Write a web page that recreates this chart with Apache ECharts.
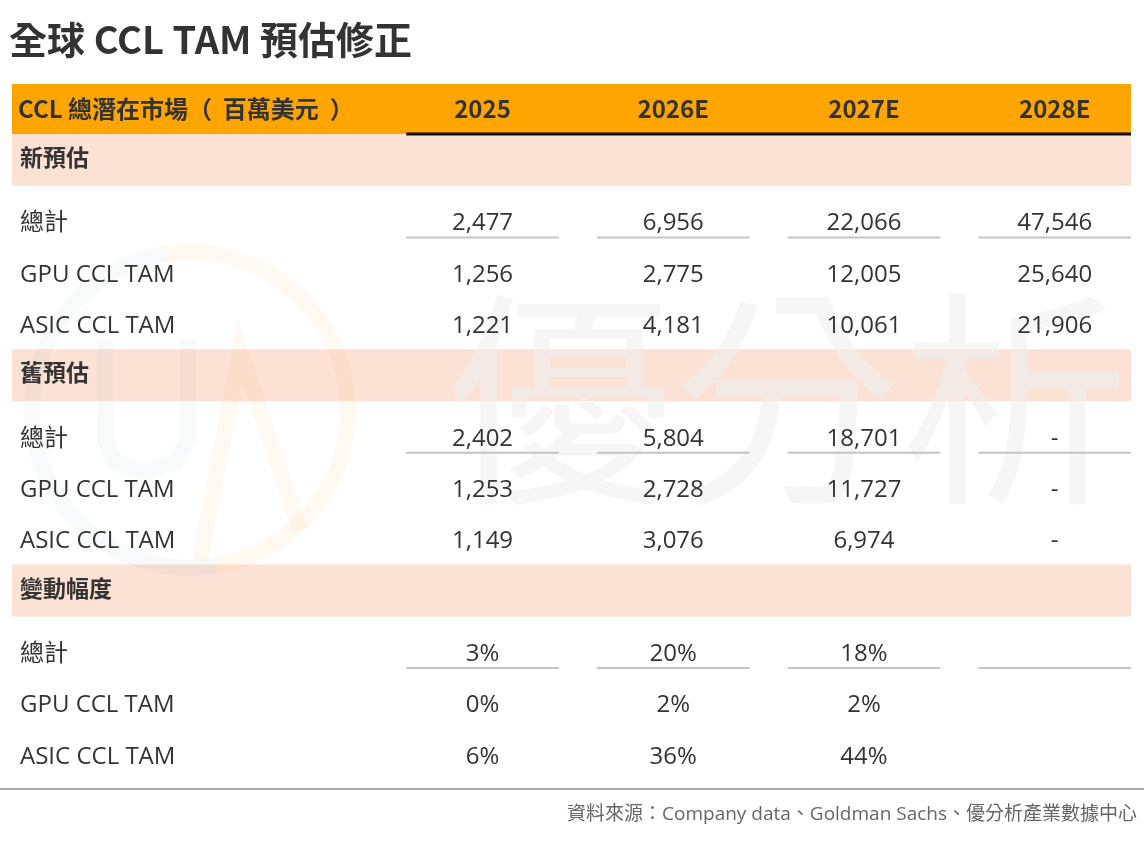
<!DOCTYPE html>
<html>
<head>
<meta charset="utf-8">
<script src="https://cdn.jsdelivr.net/npm/echarts@6/dist/echarts.min.js"></script>
<style>
  html, body { margin: 0; padding: 0; background: #fff; }
  #main { width: 1144px; height: 843px; }
</style>
</head>
<body>
<div id="main"></div>
<script>
// ---- 資料 ----
var titleText = '全球 CCL TAM 預估修正';
var headerLabel = 'CCL 總潛在市場（  百萬美元  ）';
var years = ['2025', '2026E', '2027E', '2028E'];
var sections = ['新預估', '舊預估', '變動幅度'];
var rowLabels = ['總計', 'GPU CCL TAM', 'ASIC CCL TAM'];

// 新預估 (百萬美元)
var newTotal = [2477, 6956, 22066, 47546];
var newGpu   = [1256, 2775, 12005, 25640];
var newAsic  = [1221, 4181, 10061, 21906];
// 舊預估
var oldTotal = [2402, 5804, 18701, null];
var oldGpu   = [1253, 2728, 11727, null];
var oldAsic  = [1149, 3076, 6974, null];
// 變動幅度 (%)
var chgTotal = [3, 20, 18, null];
var chgGpu   = [0, 2, 2, null];
var chgAsic  = [6, 36, 44, null];

var sourceText = '資料來源：Company data、Goldman Sachs、優分析產業數據中心';

// ---- 版面 ----
var FONT = '"Noto Sans CJK TC", "Noto Sans", sans-serif';
var FONT_MIX = '"Open Sans", "Noto Sans CJK TC", sans-serif';
var X_MIN = -1.467, X_MAX = 4.4, LABEL_X = -1.425, HALF = 0.4;
var HEADER_H = 0.97, SECTION_H = 1.01, GAP_H = 0.175, ROW_H = 1, FOOT_H = 0.18;
var TEXT_SHIFT = 0.055; // Open Sans 基線略高，往下補一點

function fmtNum(v) { return v == null ? '-' : v.toLocaleString('en-US'); }
function fmtPct(v) { return v == null ? '' : v + '%'; }

var sectionRows = [
    [newTotal, newGpu, newAsic].map(function (r) { return r.map(fmtNum); }),
    [oldTotal, oldGpu, oldAsic].map(function (r) { return r.map(fmtNum); }),
    [chgTotal, chgGpu, chgAsic].map(function (r) { return r.map(fmtPct); })
];

var bgItems = [];   // [x0, y0, x1, y1, color]
var lineItems = []; // [x0, y, x1, color, width]
var cells = [];     // {x, y, text, kind}

var y = 0;
bgItems.push([X_MIN, 0, X_MAX, HEADER_H, '#FFA500']);
cells.push({ x: LABEL_X - 0.01, y: HEADER_H / 2, text: headerLabel, kind: 'headLeft' });
years.forEach(function (yr, i) {
    cells.push({ x: i + 1, y: HEADER_H / 2, text: yr, kind: 'head' });
});
lineItems.push([1 - HALF, HEADER_H, X_MAX, '#111', 3]);
y = HEADER_H;

sections.forEach(function (name, si) {
    bgItems.push([X_MIN, y, X_MAX, y + SECTION_H, '#FBE2D5']);
    cells.push({ x: LABEL_X, y: y + SECTION_H / 2 - 0.05, text: name, kind: 'section' });
    y += SECTION_H + GAP_H;
    sectionRows[si].forEach(function (vals, ri) {
        var cy = y + ROW_H / 2;
        cells.push({ x: LABEL_X, y: cy + TEXT_SHIFT, text: rowLabels[ri], kind: 'label' });
        vals.forEach(function (v, ci) {
            cells.push({ x: ci + 1, y: cy + TEXT_SHIFT, text: v, kind: 'value' });
            if (ri === 0) lineItems.push([ci + 1 - HALF, cy + 0.33, ci + 1 + HALF, '#C4C4C4', 2]);
        });
        y += ROW_H;
    });
});
var Y_MAX = y + FOOT_H;

var cellStyle = {
    headLeft: { font: 'bold 24px ' + FONT, align: 'left', fill: '#333' },
    head:     { font: 'bold 24px ' + FONT, align: 'center', fill: '#333' },
    section:  { font: 'bold 23px ' + FONT, align: 'left', fill: '#333' },
    label:    { font: '24px ' + FONT_MIX, align: 'left', fill: '#333' },
    value:    { font: '24px ' + FONT_MIX, align: 'center', fill: '#333' }
};

var chart = echarts.init(document.getElementById('main'));

var option = {
    backgroundColor: '#fff',
    animation: false,
    title: {
        text: titleText,
        left: 9, top: 21, padding: 0,
        textStyle: { fontFamily: FONT, fontSize: 38, fontWeight: 'bold', color: '#333' }
    },
    grid: { left: 12, right: 13, top: 84, bottom: 54 },
    xAxis: { type: 'value', min: X_MIN, max: X_MAX, show: false, splitLine: { show: false } },
    yAxis: { type: 'value', min: 0, max: Y_MAX, inverse: true, show: false, splitLine: { show: false } },
    graphic: [
        // 浮水印
        { type: 'arc', z: 5, silent: true, shape: { cx: 190, cy: 410, r: 158, startAngle: -Math.PI * 0.55, endAngle: Math.PI * 0.45 },
          style: { stroke: 'rgba(250,190,100,0.09)', lineWidth: 16, fill: null } },
        { type: 'arc', z: 5, silent: true, shape: { cx: 190, cy: 410, r: 158, startAngle: Math.PI * 0.45, endAngle: Math.PI * 1.45 },
          style: { stroke: 'rgba(170,180,200,0.08)', lineWidth: 16, fill: null } },
        { type: 'polyline', z: 5, silent: true, shape: { points: [[105, 340], [105, 440], [115, 462], [145, 472], [175, 462], [188, 440], [188, 340]] },
          style: { stroke: 'rgba(170,180,200,0.08)', lineWidth: 16, fill: null } },
        { type: 'polyline', z: 5, silent: true, shape: { points: [[200, 560], [240, 350], [300, 530]] },
          style: { stroke: 'rgba(250,190,100,0.09)', lineWidth: 16, fill: null } },
        { type: 'text', z: 5, silent: true, left: 445, top: 285,
          style: { text: '優分析', font: '228px ' + FONT, fill: 'rgba(240,240,240,0.6)', letterSpacing: 22 } },
        // 底線與資料來源
        { type: 'line', z: 5, silent: true, shape: { x1: 0, y1: 789, x2: 1144, y2: 789 },
          style: { stroke: '#A8A8A8', lineWidth: 2 } },
        { type: 'text', z: 5, silent: true, right: 7, top: 805,
          style: { text: sourceText, font: '19px ' + FONT_MIX, fill: '#666' } }
    ],
    series: [
        {
            type: 'custom', z: 1, silent: true,
            data: bgItems.map(function (b) { return [b[0], b[1]]; }),
            renderItem: function (params, api) {
                var b = bgItems[params.dataIndex];
                var p0 = api.coord([b[0], b[1]]);
                var p1 = api.coord([b[2], b[3]]);
                return { type: 'rect', shape: { x: p0[0], y: p0[1], width: p1[0] - p0[0], height: p1[1] - p0[1] },
                         style: { fill: b[4] } };
            }
        },
        {
            type: 'custom', z: 8, silent: true,
            data: lineItems.map(function (l) { return [l[0], l[1]]; }),
            renderItem: function (params, api) {
                var l = lineItems[params.dataIndex];
                var p0 = api.coord([l[0], l[1]]);
                var p1 = api.coord([l[2], l[1]]);
                return { type: 'line', shape: { x1: p0[0], y1: p0[1], x2: p1[0], y2: p1[1] },
                         style: { stroke: l[3], lineWidth: l[4] } };
            }
        },
        {
            type: 'custom', z: 10, silent: true,
            data: cells.map(function (c) { return [c.x, c.y]; }),
            renderItem: function (params, api) {
                var c = cells[params.dataIndex];
                var p = api.coord([c.x, c.y]);
                var s = cellStyle[c.kind];
                return { type: 'text', style: { text: c.text, x: p[0], y: p[1], font: s.font, fill: s.fill,
                         align: s.align, verticalAlign: 'middle' } };
            }
        }
    ]
};

chart.setOption(option);
window.onresize = function () { chart.resize(); };
</script>
</body>
</html>
